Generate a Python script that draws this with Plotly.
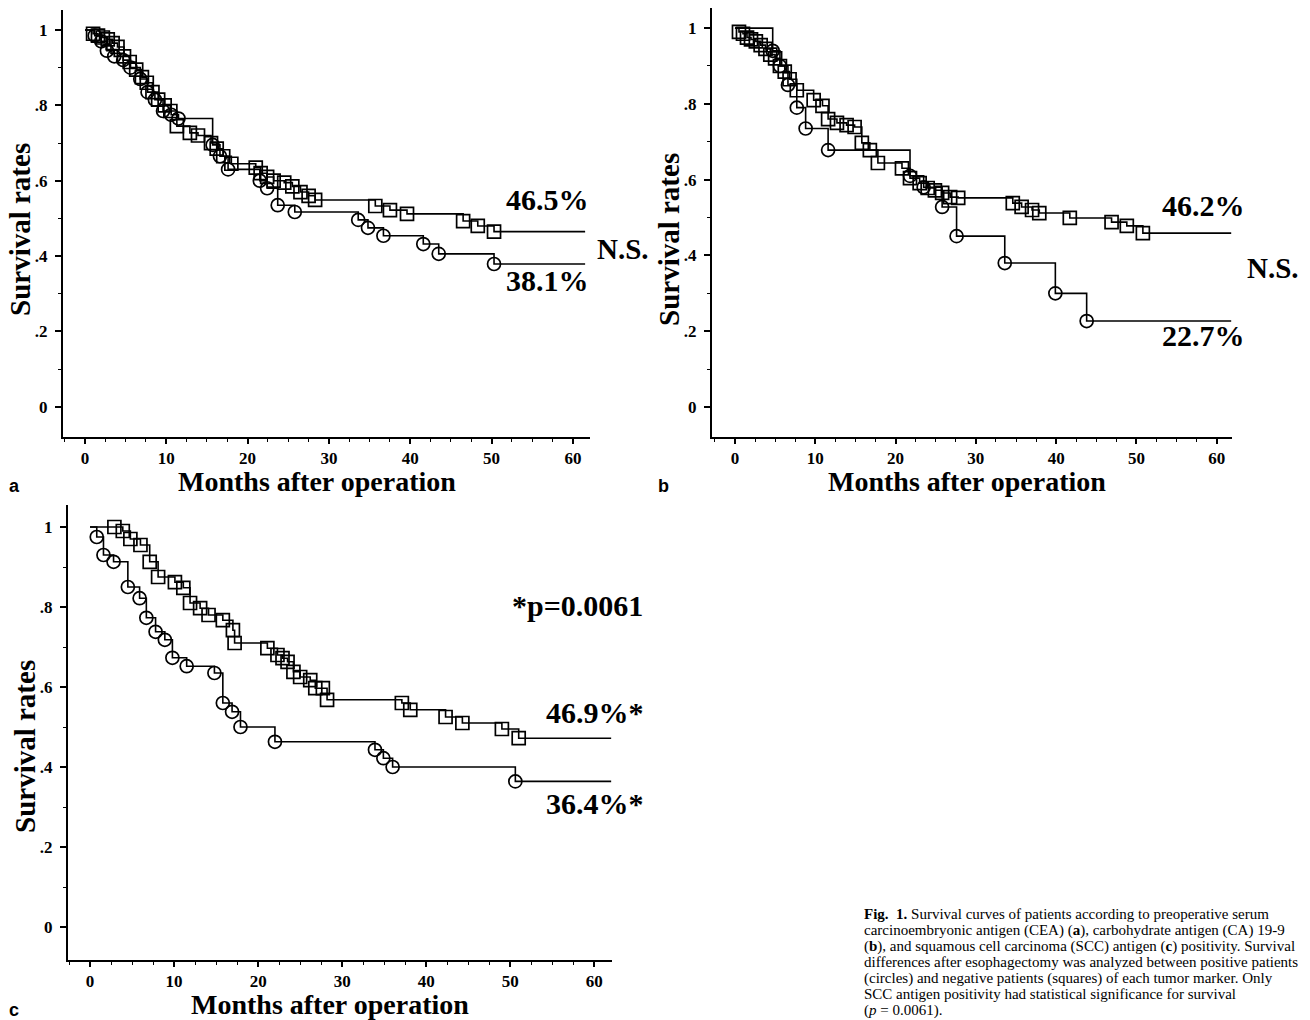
import plotly.graph_objects as go

W, H = 1310, 1020
SERIF = "Liberation Serif"
SANS = "Liberation Sans"

# ---------------- data ----------------
# Panel a: CEA
a_neg_t = [0, 1.0, 1.6, 2.2, 2.8, 3.4, 4.0, 4.8, 5.5, 6.3, 7.0, 7.6, 8.3, 9.0, 9.8, 10.5, 11.3, 12.9, 13.9, 15.5,
           16.2, 17.0, 18.0, 21.0, 21.6, 22.4, 23.2, 24.5, 25.5, 26.5, 27.5, 28.3, 35.7, 37.5, 39.6, 46.5, 48.3, 50.3, 61.5]
a_neg_s = [1.0, 0.99, 0.985, 0.98, 0.975, 0.965, 0.955, 0.93, 0.915, 0.895, 0.875, 0.86, 0.835, 0.815, 0.80, 0.785, 0.745, 0.727, 0.72, 0.70,
           0.685, 0.665, 0.645, 0.635, 0.62, 0.61, 0.60, 0.595, 0.585, 0.57, 0.56, 0.549, 0.533, 0.522, 0.512, 0.493, 0.48, 0.465, 0.465]
a_pos_t = [0, 1.2, 2.0, 2.7, 3.6, 4.7, 5.6, 6.8, 7.7, 8.6, 9.6, 10.6, 11.5, 15.7, 16.6, 17.6, 21.5, 22.4, 23.7, 25.8,
           33.6, 34.8, 36.7, 41.6, 43.5, 50.3, 61.5]
a_pos_s = [1.0, 0.985, 0.97, 0.945, 0.93, 0.92, 0.90, 0.87, 0.835, 0.815, 0.785, 0.775, 0.765, 0.695, 0.665, 0.63, 0.60, 0.58, 0.535, 0.517,
           0.496, 0.475, 0.454, 0.432, 0.406, 0.379, 0.379]

# Panel b: CA 19-9
b_neg_t = [0, 0.5, 1.0, 1.5, 2.0, 2.6, 3.2, 3.8, 4.4, 5.0, 5.6, 6.2, 6.8, 7.7, 9.8, 10.9, 11.6, 12.7, 13.9, 14.9,
           15.8, 16.8, 17.8, 20.8, 21.8, 23.0, 24.0, 24.9, 25.8, 26.8, 27.8, 34.6, 35.7, 37.0, 37.9, 41.7, 46.9, 48.8, 50.8, 61.8]
b_neg_s = [1.0, 0.99, 0.985, 0.975, 0.97, 0.965, 0.955, 0.945, 0.93, 0.92, 0.90, 0.885, 0.865, 0.836, 0.81, 0.795, 0.76, 0.75, 0.744, 0.739,
           0.697, 0.678, 0.644, 0.63, 0.604, 0.591, 0.578, 0.572, 0.565, 0.554, 0.552, 0.538, 0.528, 0.52, 0.512, 0.499, 0.488, 0.478, 0.459, 0.459]
b_pos_t = [0, 4.7, 5.6, 6.6, 7.7, 8.8, 11.6, 21.8, 23.5, 25.8, 27.6, 33.6, 39.9, 43.8, 61.8]
b_pos_s = [1.0, 0.94, 0.90, 0.85, 0.79, 0.735, 0.678, 0.61, 0.58, 0.528, 0.451, 0.38, 0.30, 0.227, 0.227]

# Panel c: SCC antigen
c_neg_t = [0, 2.9, 3.9, 4.8, 6.0, 7.1, 8.1, 10.1, 11.1, 11.9, 13.1, 14.1, 15.8, 17.0, 17.2, 21.1, 22.3, 22.9, 23.5, 24.2,
           25.0, 26.2, 26.8, 27.7, 28.2, 37.1, 38.1, 42.3, 44.3, 49.0, 51.0, 62.0]
c_neg_s = [1.0, 1.0, 0.99, 0.97, 0.955, 0.913, 0.875, 0.862, 0.848, 0.81, 0.797, 0.78, 0.767, 0.742, 0.71, 0.697, 0.68, 0.672, 0.663, 0.638,
           0.625, 0.617, 0.597, 0.597, 0.568, 0.56, 0.543, 0.525, 0.51, 0.495, 0.472, 0.472]
c_pos_t = [0, 0.8, 1.6, 2.8, 4.5, 5.9, 6.7, 7.8, 8.9, 9.8, 11.5, 14.8, 15.8, 16.9, 17.9, 22.0, 33.9, 34.9, 36.0, 50.6, 62.0]
c_pos_s = [1.0, 0.975, 0.93, 0.913, 0.85, 0.822, 0.773, 0.738, 0.718, 0.673, 0.652, 0.635, 0.56, 0.538, 0.50, 0.463, 0.443, 0.422, 0.40, 0.364, 0.364]

x_ticks = [0, 10, 20, 30, 40, 50, 60]
y_ticks = [0, 0.2, 0.4, 0.6, 0.8, 1.0]
y_ticktext = ["0", ".2", ".4", ".6", ".8", "1"]

panel_labels = ["a", "b", "c"]
label_texts = {
    "a": ["46.5%", "N.S.", "38.1%"],
    "b": ["46.2%", "N.S.", "22.7%"],
    "c": ["*p=0.0061", "46.9%*", "36.4%*"],
}
caption_lines = [
    "<b>Fig.  1.</b> Survival curves of patients according to preoperative serum",
    "carcinoembryonic antigen (CEA) (<b>a</b>), carbohydrate antigen (CA) 19-9",
    "(<b>b</b>), and squamous cell carcinoma (SCC) antigen (<b>c</b>) positivity. Survival",
    "differences after esophagectomy was analyzed between positive patients",
    "(circles) and negative patients (squares) of each tumor marker. Only",
    "SCC antigen positivity had statistical significance for survival",
    "(<i>p</i> = 0.0061).",
]

# ---------------- layout geometry (pixels) ----------------
geo = {
    "a": dict(xd=(63, 590), yd=(10, 437), xr=(-2.7, 62.1), yr=(-0.08, 1.053)),
    "b": dict(xd=(712, 1232), yd=(8, 437), xr=(-2.86, 61.9), yr=(-0.079, 1.053)),
    "c": dict(xd=(68, 612), yd=(505, 960), xr=(-2.62, 62.1), yr=(-0.0825, 1.055)),
}
series = {
    "a": (a_neg_t, a_neg_s, a_pos_t, a_pos_s),
    "b": (b_neg_t, b_neg_s, b_pos_t, b_pos_s),
    "c": (c_neg_t, c_neg_s, c_pos_t, c_pos_s),
}

fig = go.Figure()
LW = 1.6
for i, key in enumerate(["a", "b", "c"]):
    sfx = "" if i == 0 else str(i + 1)
    xa, ya = "x" + sfx, "y" + sfx
    nt, ns, pt, ps = series[key]
    for t, s, sym in [(nt, ns, "square-open"), (pt, ps, "circle-open")]:
        fig.add_trace(go.Scatter(x=t, y=s, xaxis=xa, yaxis=ya, mode="lines",
                                 line=dict(color="black", width=LW, shape="hv"),
                                 showlegend=False, hoverinfo="skip"))
        fig.add_trace(go.Scatter(x=t[1:-1], y=s[1:-1], xaxis=xa, yaxis=ya, mode="markers",
                                 marker=dict(symbol=sym, size=13, color="black", line=dict(width=1.7)),
                                 showlegend=False, hoverinfo="skip"))
    g = geo[key]
    xdom = [g["xd"][0] / W, g["xd"][1] / W]
    ydom = [1 - g["yd"][1] / H, 1 - g["yd"][0] / H]
    tickfont = dict(family=SERIF, size=17, color="black", weight="bold")
    fig.layout["xaxis" + sfx] = dict(
        domain=xdom, range=list(g["xr"]), anchor=ya, showgrid=False, zeroline=False,
        showline=True, linecolor="black", linewidth=2, ticks="outside", ticklen=5, tickwidth=1.5,
        tickcolor="black", tickvals=x_ticks, tickfont=tickfont, ticklabelstandoff=0,
        minor=dict(tickmode="linear", tick0=0, dtick=2.5, ticks="outside", ticklen=3, tickwidth=1, tickcolor="black"),
    )
    fig.layout["yaxis" + sfx] = dict(
        domain=ydom, range=list(g["yr"]), anchor=xa, showgrid=False, zeroline=False,
        showline=True, linecolor="black", linewidth=2, ticks="outside", ticklen=6, tickwidth=1.5,
        tickcolor="black", tickvals=y_ticks, ticktext=y_ticktext, tickfont=tickfont, ticklabelstandoff=4,
        minor=dict(tickmode="linear", tick0=0, dtick=0.1, ticks="outside", ticklen=3, tickwidth=1, tickcolor="black"),
    )

anns = []


def ann(text, px, py, size, family=SERIF, xanchor="center", yanchor="middle", angle=0, bold=True):
    anns.append(dict(text=(f"<b>{text}</b>" if bold else text), x=px / W, y=1 - py / H, xref="paper", yref="paper",
                     xanchor=xanchor, yanchor=yanchor, showarrow=False, textangle=angle,
                     font=dict(family=family, size=size, color="black")))


# axis titles
ann("Months after operation", 317, 481, 28)
ann("Months after operation", 967, 481, 28)
ann("Months after operation", 330, 1004, 28)
ann("Survival rates", 20, 230, 29, angle=-90)
ann("Survival rates", 669, 240, 29, angle=-90)
ann("Survival rates", 25, 747, 29, angle=-90)

# panel letters
ann(panel_labels[0], 14, 486, 18, family=SANS)
ann(panel_labels[1], 663, 486, 18, family=SANS)
ann(panel_labels[2], 14, 1010, 18, family=SANS)

# curve labels
ann(label_texts["a"][0], 547, 200, 30)
ann(label_texts["a"][1], 623, 249, 29)
ann(label_texts["a"][2], 547, 280, 30)
ann(label_texts["b"][0], 1203, 206, 30)
ann(label_texts["b"][1], 1273, 268, 29)
ann(label_texts["b"][2], 1203, 336, 30)
ann(label_texts["c"][0], 577, 605, 30)
ann(label_texts["c"][1], 595, 712, 30)
ann(label_texts["c"][2], 595, 803, 30)

# caption
for k, line in enumerate(caption_lines):
    ann(line, 862, 914 + k * 16, 15, xanchor="left", bold=False)

fig.update_layout(width=W, height=H, margin=dict(l=0, r=0, t=0, b=0), annotations=anns,
                  paper_bgcolor="white", plot_bgcolor="white", showlegend=False)

fig.write_html("out.html", config={"displayModeBar": False},
               post_script="document.body.style.margin='0';")
